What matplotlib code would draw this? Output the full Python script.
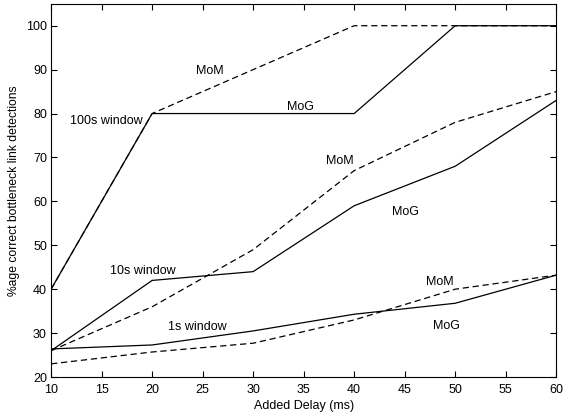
import matplotlib.pyplot as plt

plt.rcParams['font.family'] = ['Liberation Sans', 'DejaVu Sans']
plt.rcParams['font.size'] = 9

# Retardo añadido (ms)
delay = [10, 20, 30, 40, 50, 60]

# Ventana de 100 s
mog_100s = [40, 80, 80, 80, 100, 100]
mom_100s = [40, 80, 90, 100, 100, 100]

# Ventana de 10 s
mog_10s = [26, 42, 44, 59, 68, 83]
mom_10s = [26, 36, 49, 67, 78, 85]

# Ventana de 1 s
mog_1s = [26.4, 27.3, 30.5, 34.3, 36.8, 43.2]
mom_1s = [23, 25.7, 27.7, 33, 40, 43.2]

fig = plt.figure(figsize=(5.74, 4.18), dpi=100)
ax = fig.add_axes([0.089, 0.098, 0.880, 0.893])

for mog, mom in [(mog_100s, mom_100s), (mog_10s, mom_10s), (mog_1s, mom_1s)]:
    ax.plot(delay, mom, color='black', linestyle='--', linewidth=0.9, dashes=(5, 3))
    ax.plot(delay, mog, color='black', linestyle='-', linewidth=0.9)

# Etiquetas dentro de la gráfica
etiquetas = [
    ("MoM", 25.7, 89.8), ("MoG", 34.7, 81.4), ("100s window", 15.5, 78.4),
    ("MoM", 38.6, 69.3), ("MoG", 45.1, 57.5), ("10s window", 19.1, 44.1),
    ("1s window", 24.5, 31.4), ("MoM", 48.5, 41.6), ("MoG", 49.1, 31.6),
]
for texto, x, y in etiquetas:
    ax.text(x, y, texto, ha='center', va='center', fontsize=9)

ax.set_xlim(10, 60)
ax.set_ylim(20, 105)
ax.set_xticks(range(10, 61, 5))
ax.set_yticks(range(20, 101, 10))
ax.tick_params(direction='in', top=True, right=True, length=4, width=0.8, labelsize=9)
ax.tick_params(axis='x', pad=5)
ax.tick_params(axis='y', pad=3)
ax.set_xlabel('Added Delay (ms)', fontsize=9, labelpad=3)
ax.set_ylabel('%age correct bottleneck link detections', fontsize=8.7, labelpad=4)

plt.savefig('out.png', dpi=100)
